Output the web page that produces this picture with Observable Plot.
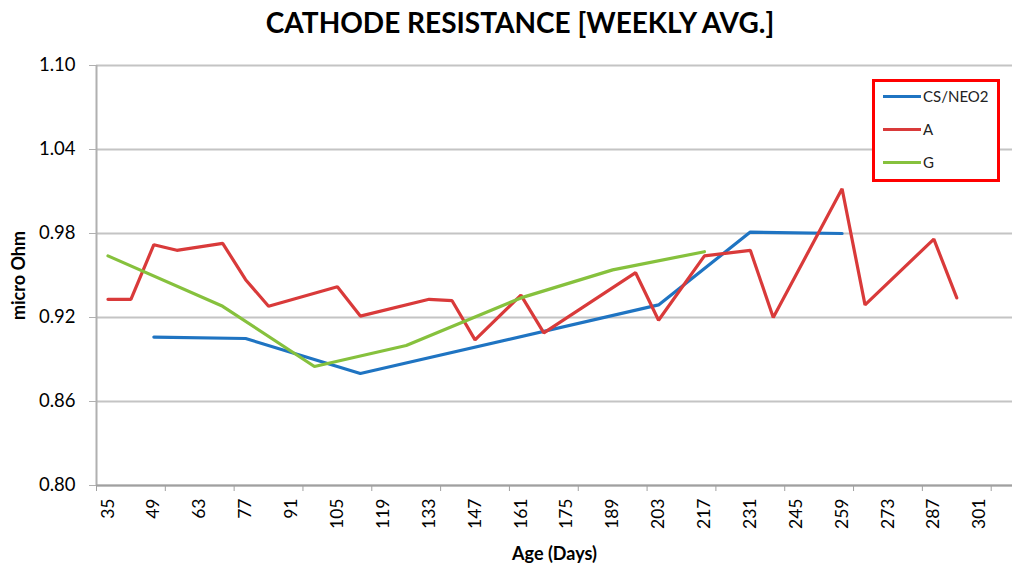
<!DOCTYPE html>
<html>
<head>
<meta charset="utf-8">
<script src="https://cdn.jsdelivr.net/npm/d3@7"></script>
<script src="https://cdn.jsdelivr.net/npm/@observablehq/plot@0.6"></script>
<style>
  body { margin: 0; background: #fff; font-family: Lato, "Open Sans", sans-serif; }
  #wrap { position: relative; width: 1024px; height: 572px; }
  #title { height: 42px; line-height: 44px; text-align: center; font-weight: bold; font-size: 28px; color: #000; padding-left: 16px; }
  #legend { position: absolute; left: 872px; top: 79px; width: 122px; height: 97px; border: 3px solid #ff0000; background: #fff; }
  .item { position: absolute; left: 8px; font-size: 15px; color: #222; display: flex; align-items: center; }
  .item span.sw { display: inline-block; width: 38px; height: 3px; margin-right: 2px; }
</style>
</head>
<body>
<div id="wrap">
  <div id="title">CATHODE RESISTANCE [WEEKLY AVG.]</div>
  <div id="chart"></div>
  <div id="legend"></div>
</div>
<script>
// Series names and colours
const seriesNames = ["CS/NEO2", "A", "G"];
const seriesColors = ["#1f74c2", "#d93a3a", "#86c13d"];

// CS/NEO2 (blue)
const daysCS = [49, 77, 112, 203, 231, 259];
const valsCS = [0.906, 0.905, 0.880, 0.929, 0.981, 0.980];

// A (red)
const daysA = [35, 42, 49, 56, 70, 77, 84, 105, 112, 133, 140, 147, 161, 168, 196, 203, 217, 231, 238, 259, 266, 287, 294];
const valsA = [0.933, 0.933, 0.972, 0.968, 0.973, 0.947, 0.928, 0.942, 0.921, 0.933, 0.932, 0.904, 0.936, 0.909, 0.952, 0.918, 0.964, 0.968, 0.920, 1.012, 0.929, 0.976, 0.934];

// G (green)
const daysG = [35, 70, 98, 126, 161, 189, 217];
const valsG = [0.964, 0.928, 0.885, 0.900, 0.934, 0.954, 0.967];

// Axis ticks
const xLabels = [35, 49, 63, 77, 91, 105, 119, 133, 147, 161, 175, 189, 203, 217, 231, 245, 259, 273, 287, 301];
const xTickMarks = [31.5, 52.5, 73.5, 94.5, 115.5, 136.5, 157.5, 178.5, 199.5, 220.5, 241.5, 262.5, 283.5, 304.5];
const yTicks = [0.80, 0.86, 0.92, 0.98, 1.04, 1.10];
const xDomain = [31.5, 311];
const yDomain = [0.80, 1.10];

const toRows = (days, vals, name) => days.map((d, i) => ({day: d, value: vals[i], series: name}));
const rows = [
  ...toRows(daysCS, valsCS, seriesNames[0]),
  ...toRows(daysA, valsA, seriesNames[1]),
  ...toRows(daysG, valsG, seriesNames[2])
];

const chart = Plot.plot({
  width: 1024,
  height: 530,
  marginTop: 23,
  marginBottom: 87,
  marginLeft: 96,
  marginRight: 12,
  style: {fontFamily: "Lato, 'Open Sans', sans-serif", fontSize: "17px", color: "#000", background: "#fff"},
  x: {domain: xDomain},
  y: {domain: yDomain},
  color: {domain: seriesNames, range: seriesColors},
  marks: [
    Plot.gridY(yTicks, {stroke: "#c4c4c4", strokeOpacity: 1, strokeWidth: 2}),
    Plot.ruleX([xDomain[0]], {stroke: "#b0b0b0", strokeWidth: 2}),
    Plot.ruleY([yDomain[0]], {stroke: "#a0a0a0", strokeWidth: 2}),
    Plot.axisY(yTicks, {tickFormat: d3.format(".2f"), tickSize: 7, tickPadding: 14, stroke: "#b0b0b0",
      label: "micro Ohm", labelArrow: "none", labelAnchor: "center", labelOffset: 84, fontSize: 18.5}),
    Plot.axisX(xTickMarks, {tickFormat: () => "", tickSize: 6, stroke: "#a0a0a0", label: null}),
    Plot.axisX(xLabels, {tickSize: 0, tickPadding: 13, tickRotate: -90, fontSize: 17.5,
      label: "Age (Days)", labelArrow: "none", labelAnchor: "center", labelOffset: 74}),
    Plot.line(rows, {x: "day", y: "value", stroke: "series", z: "series", strokeWidth: 3.2, strokeLinejoin: "miter"})
  ]
});
d3.select(chart).selectAll("g[aria-label='y-axis label'] text, g[aria-label='x-axis label'] text")
  .style("font-weight", "bold").style("font-size", "18px")
  .each(function() {
    const t = d3.select(this);
    const txt = t.text().replace(/\s*[→←↑↓]\s*/g, "").trim();
    t.text(txt);
  });
document.getElementById("chart").appendChild(chart);

// Legend
const legend = d3.select("#legend");
seriesNames.forEach((name, i) => {
  const item = legend.append("div").attr("class", "item").style("top", (5 + i * 33) + "px");
  item.append("span").attr("class", "sw").style("background", seriesColors[i]);
  item.append("span").text(name);
});
</script>
</body>
</html>
